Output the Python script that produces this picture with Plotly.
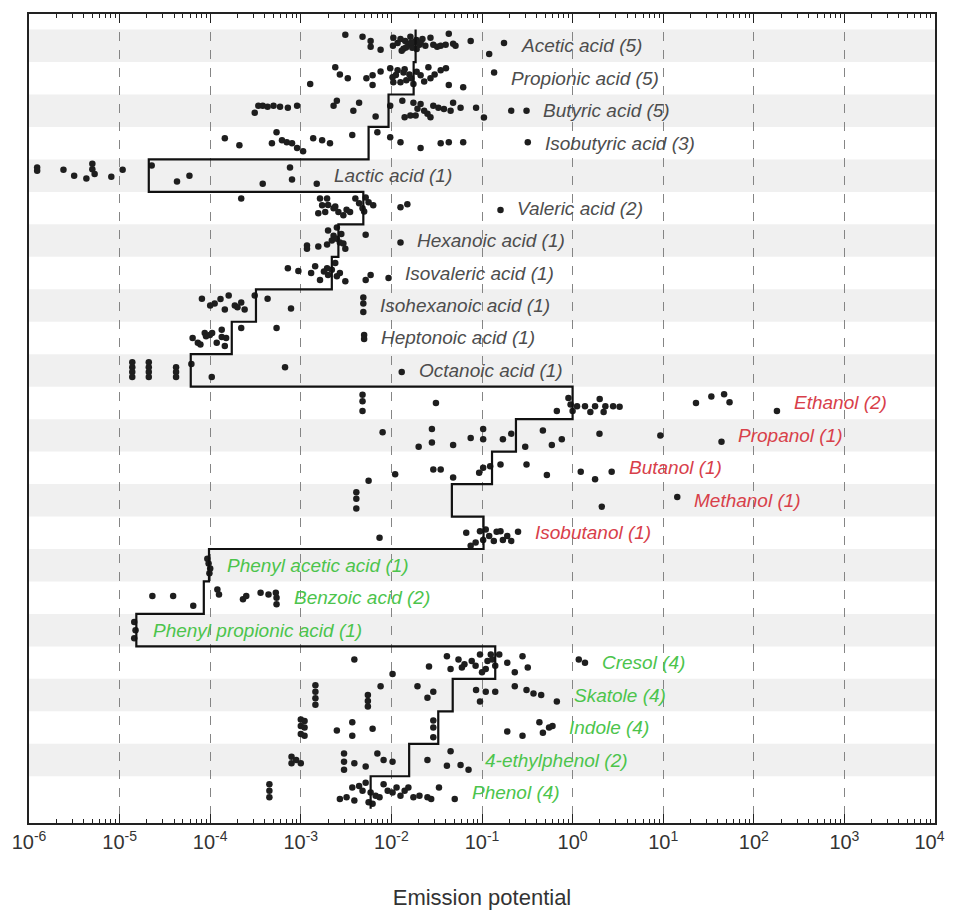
import math
import plotly.graph_objects as go

# ---------------- data ----------------
names = ["Acetic acid (5)", "Propionic acid (5)", "Butyric acid (5)", "Isobutyric acid (3)",
         "Lactic acid (1)", "Valeric acid (2)", "Hexanoic acid (1)", "Isovaleric acid (1)",
         "Isohexanoic acid (1)", "Heptonoic acid (1)", "Octanoic acid (1)",
         "Ethanol (2)", "Propanol (1)", "Butanol (1)", "Methanol (1)", "Isobutanol (1)",
         "Phenyl acetic acid (1)", "Benzoic acid (2)", "Phenyl propionic acid (1)",
         "Cresol (4)", "Skatole (4)", "Indole (4)", "4-ethylphenol (2)", "Phenol (4)"]
groups = ["acid"] * 11 + ["alcohol"] * 5 + ["aromatic"] * 8

tick_values = [1e-6, 1e-5, 1e-4, 1e-3, 1e-2, 1e-1, 1e0, 1e1, 1e2, 1e3, 1e4]
tick_labels = ["10<sup>-6</sup>", "10<sup>-5</sup>", "10<sup>-4</sup>", "10<sup>-3</sup>",
               "10<sup>-2</sup>", "10<sup>-1</sup>", "10<sup>0</sup>", "10<sup>1</sup>",
               "10<sup>2</sup>", "10<sup>3</sup>", "10<sup>4</sup>"]

medians = [0.0185, 0.0176, 0.0093, 0.0056, 2.1e-5, 0.0049, 0.0026, 0.0022, 3.2e-4, 1.73e-4, 6.1e-5,
           1.0, 0.237, 0.129, 0.0465, 0.104,
           9.7e-5, 8.5e-5, 1.53e-5, 0.14, 0.0475, 0.0329, 0.0157, 0.0059]

acetic_vals = [0.0031, 0.0048, 0.0059, 0.0059, 0.0076, 0.0105, 0.0104, 0.0117, 0.0126, 0.0136, 0.0142,
               0.0154, 0.0162, 0.0170, 0.0180, 0.0189, 0.0204, 0.022, 0.0237, 0.027, 0.029, 0.032,
               0.035, 0.0397, 0.043, 0.048, 0.051, 0.075, 0.12, 0.175, 0.013, 0.0165, 0.019, 0.021, 0.0145]
acetic_off = [0.34, 0.28, 0.15, -0.03, -0.12, 0.25, 0, 0.09, 0.21, -0.09, 0.15, 0.03, 0.28, -0.06, 0.12,
              0.18, 0.03, 0.21, 0, 0.25, 0.03, -0.03, 0, 0.03, 0.37, 0.06, 0, 0.15, -0.25, 0.09,
              -0.15, 0.1, -0.1, 0.1, -0.05]

propionic_vals = [0.0024, 0.0027, 0.0033, 0.00127, 0.0053, 0.0062, 0.0062, 0.0076, 0.0097, 0.0103, 0.0105,
                  0.0117, 0.0126, 0.0136, 0.0146, 0.0158, 0.0175, 0.021, 0.0256, 0.027, 0.035, 0.040,
                  0.043, 0.062, 0.136, 0.0112, 0.014, 0.0165, 0.019, 0.023, 0.030]
propionic_off = [0.34, 0.12, 0, -0.18, 0, 0.09, -0.21, 0.21, 0.31, 0.03, -0.12, 0.25, -0.12, 0.18, -0.06,
                 0.12, -0.18, 0.09, 0.34, 0, 0.25, 0.31, -0.21, -0.28, 0.18, 0.1, 0.28, 0.0, 0.2, -0.1, 0.12]

butyric_vals = [0.00031, 0.00034, 0.00038, 0.00043, 0.00050, 0.00059, 0.00072, 0.00091, 0.0023, 0.0025,
                0.0038, 0.0044, 0.0067, 0.0097, 0.0132, 0.0162, 0.0175, 0.0194, 0.021, 0.025, 0.029,
                0.033, 0.045, 0.048, 0.058, 0.086, 0.105, 0.21, 0.31, 0.014, 0.0185, 0.023, 0.027, 0.038]
butyric_off = [-0.06, 0.15, 0.15, 0.12, 0.15, 0.12, 0.09, 0.15, 0.15, 0.31, 0, 0.25, -0.18, 0.15, 0.31,
               -0.15, 0.25, 0.06, 0.21, -0.09, 0.15, 0.09, 0, 0.25, 0.09, 0.09, -0.21, 0, 0,
               -0.2, -0.15, 0.0, -0.2, 0.05]

isobutyric_vals = [0.000145, 0.00021, 0.00048, 0.00054, 0.00062, 0.00070, 0.00080, 0.00091, 0.00106,
                   0.00137, 0.00172, 0.0021, 0.0037, 0.0070, 0.0097, 0.0126, 0.021, 0.035, 0.043,
                   0.062, 0.32]
isobutyric_off = [0.15, -0.06, 0, 0.34, 0.09, 0.03, 0, -0.15, -0.25, 0.15, 0.09, 0, 0.25, 0.34, 0.18,
                  0.03, -0.15, 0, 0.03, 0.03, 0.03]

lactic_vals = [1.23e-6, 1.23e-6, 2.4e-6, 3.15e-6, 4.3e-6, 5.0e-6, 5.0e-6, 5.3e-6, 8.1e-6, 1.08e-5,
               2.26e-5, 4.3e-5, 5.9e-5, 3.8e-4, 7.6e-4, 8.0e-4, 1.5e-3]
lactic_off = [0.25, 0.15, 0.18, 0, -0.09, 0.37, 0.2, 0.05, -0.03, 0.18, 0.31, -0.18, 0, -0.25, 0.25,
              -0.12, -0.25]

valeric_vals = [2.2e-4, 1.56e-3, 1.63e-3, 1.72e-3, 1.86e-3, 1.95e-3, 2.3e-3, 2.6e-3, 2.95e-3, 3.5e-3,
                4.0e-3, 4.8e-3, 5.2e-3, 5.6e-3, 6.3e-3, 1.26e-2, 1.5e-2, 0.16,
                2.0e-3, 2.4e-3, 3.2e-3, 4.4e-3, 5.0e-3]
valeric_off = [0.3, -0.16, 0.3, 0.09, -0.12, 0.3, 0, -0.12, -0.22, -0.12, 0.3, 0, 0.33, 0.18, 0.09,
               0.03, 0.12, -0.06, 0.1, 0.05, -0.05, 0.15, -0.1]

hexanoic_vals = [1.17e-3, 1.56e-3, 1.95e-3, 2.0e-3, 2.3e-3, 2.5e-3, 2.7e-3, 2.95e-3, 2.5e-3, 5.2e-3,
                 1.26e-2, 1.17e-3, 2.2e-3, 2.8e-3, 3.1e-3]
hexanoic_off = [-0.15, -0.18, -0.12, 0.31, 0.15, 0.06, -0.06, -0.09, 0.4, 0.18, -0.06, -0.25, 0.0,
                0.2, -0.25]

isovaleric_vals = [7.2e-4, 9.4e-4, 1.3e-3, 1.44e-3, 1.63e-3, 1.95e-3, 2.0e-3, 2.4e-3, 2.7e-3, 3.1e-3,
                   5.2e-3, 5.9e-3, 9.3e-3, 2.2e-3, 2.5e-3, 1.8e-3]
isovaleric_off = [0.15, 0.06, 0, 0.21, -0.21, 0.15, -0.06, 0.31, 0, -0.25, -0.21, -0.06, -0.15,
                  0.1, -0.1, 0.05]

isohexanoic_vals = [8.1e-5, 1.12e-4, 1.45e-4, 1.6e-4, 1.87e-4, 2.2e-4, 2.4e-4, 3.1e-4, 4.3e-4, 7.8e-4,
                    4.9e-3, 4.9e-3, 4.9e-3, 1.3e-4, 2.0e-4, 1.0e-4]
isohexanoic_off = [0.21, 0.06, -0.12, 0.31, 0, 0.09, -0.12, 0.31, 0.21, -0.09, 0.25, 0.06, -0.2,
                   0.2, -0.05, 0.0]

heptonoic_vals = [6.4e-5, 7.3e-5, 8.7e-5, 9.9e-5, 1.18e-4, 1.34e-4, 1.34e-4, 1.45e-4, 2.2e-4, 5.4e-4,
                  5.0e-3, 5.0e-3, 9.0e-5, 1.05e-4, 7.8e-5, 1.5e-4]
heptonoic_off = [0, -0.15, 0.15, 0.09, -0.15, 0.25, 0.03, -0.25, 0.31, 0.31, 0.09, -0.03,
                 0.05, 0.15, -0.2, 0.0]

octanoic_vals = [1.38e-5, 1.38e-5, 1.38e-5, 1.38e-5, 2.1e-5, 2.1e-5, 2.1e-5, 2.1e-5, 4.2e-5, 4.2e-5,
                 4.2e-5, 6.2e-5, 1.04e-4, 6.7e-4, 1.3e-2]
octanoic_off = [0.25, 0.1, -0.05, -0.2, 0.25, 0.1, -0.05, -0.2, 0.1, -0.05, -0.2, 0.2, -0.2, 0.1, -0.05]

ethanol_vals = [4.8e-3, 4.8e-3, 4.8e-3, 3.1e-2, 0.67, 0.9, 0.95, 1.0, 1.12, 1.37, 1.57, 1.77, 1.99, 2.2,
                2.3, 2.8, 3.3, 23, 34, 47, 54, 180]
ethanol_off = [0.25, 0.05, -0.25, 0, -0.25, 0.15, -0.05, -0.25, -0.1, -0.1, -0.28, -0.1, 0.12, -0.28,
               -0.1, -0.1, -0.12, 0, 0.2, 0.27, 0.02, -0.25]

propanol_vals = [8.0e-3, 2.0e-2, 2.8e-2, 2.8e-2, 4.8e-2, 7.5e-2, 0.103, 0.103, 0.17, 0.21, 0.30, 0.47,
                 0.59, 0.76, 1.98, 9.3, 44]
propanol_off = [0.1, -0.35, 0.2, -0.22, -0.3, -0.08, 0.2, -0.12, -0.12, 0.05, -0.35, 0.15, -0.3,
                -0.12, 0.05, 0, -0.2]

butanol_vals = [5.6e-3, 1.1e-2, 2.9e-2, 3.5e-2, 4.8e-2, 9.3e-2, 0.103, 0.123, 0.16, 0.31, 0.52, 1.23,
                1.77, 2.7]
butanol_off = [-0.4, -0.2, -0.05, -0.05, -0.3, -0.15, 0, 0.05, 0.1, 0.1, -0.22, -0.12, -0.35, -0.12]

methanol_vals = [4.1e-3, 4.1e-3, 4.1e-3, 2.1, 14.3]
methanol_off = [0.25, 0.05, -0.25, -0.2, 0.1]

isobutanol_vals = [7.4e-3, 6.7e-2, 7.5e-2, 8.5e-2, 9.5e-2, 0.103, 0.12, 0.135, 0.145, 0.17, 0.19,
                   0.21, 0.25, 0.11, 0.16]
isobutanol_off = [-0.15, 0, -0.4, -0.3, 0.05, -0.22, -0.1, -0.25, 0.03, -0.22, -0.1, -0.25, 0.03,
                  0.1, 0.05]

phenylacetic_vals = [9.3e-5, 9.6e-5, 1.0e-4, 9.8e-5]
phenylacetic_off = [0.2, 0.05, -0.1, -0.25]

benzoic_vals = [2.3e-5, 3.9e-5, 6.5e-5, 1.2e-4, 1.25e-4, 2.3e-4, 2.5e-4, 3.6e-4, 4.4e-4, 5.3e-4,
                5.4e-4, 5.4e-4]
benzoic_off = [0.05, 0.05, -0.25, 0.25, 0.1, -0.05, 0.05, 0.15, 0.1, 0.15, 0.0, -0.2]

phenylpropionic_vals = [1.45e-5, 1.5e-5, 1.45e-5]
phenylpropionic_off = [0.25, 0.0, -0.25]

cresol_vals = [3.9e-3, 1.03e-2, 2.6e-2, 4.1e-2, 4.5e-2, 5.5e-2, 6.4e-2, 7.7e-2, 9.5e-2, 0.1, 0.115,
               0.125, 0.14, 0.155, 0.19, 0.23, 0.28, 0.32, 1.17, 1.37, 0.06, 0.085, 0.13, 0.11]
cresol_off = [0.1, -0.35, -0.12, 0.2, -0.2, 0.1, -0.05, 0.05, 0.25, -0.3, 0.05, 0.25, -0.1, 0.25,
              0.0, -0.3, 0.2, -0.15, 0.1, 0.0, -0.15, -0.1, 0.1, -0.2]

skatole_vals = [1.45e-3, 1.45e-3, 1.45e-3, 1.45e-3, 5.5e-3, 5.5e-3, 5.5e-3, 7.6e-3, 1.94e-2, 2.5e-2,
                2.9e-2, 8.6e-2, 9.5e-2, 0.11, 0.14, 0.23, 0.31, 0.37, 0.45, 0.67]
skatole_off = [0.3, 0.1, -0.1, -0.3, 0, -0.18, -0.35, 0.27, 0.27, -0.08, 0.1, 0.16, -0.2, 0.1, 0.1,
               0.27, 0.16, 0.05, 0, -0.2]

indole_vals = [1.0e-3, 1.0e-3, 1.0e-3, 1.1e-3, 1.1e-3, 1.1e-3, 2.5e-3, 3.7e-3, 3.7e-3, 6.2e-3, 2.9e-2,
               2.9e-2, 2.9e-2, 0.19, 0.28, 0.43, 0.47, 0.55, 0.6]
indole_off = [0.25, 0.05, -0.2, 0.2, 0.0, -0.25, -0.09, 0.16, -0.25, -0.04, 0.22, 0.0, -0.3, -0.12,
              -0.25, 0.16, -0.16, 0.0, 0.05]

ethylphenol_vals = [7.9e-4, 7.9e-4, 8.9e-4, 1.0e-3, 3.0e-3, 3.0e-3, 3.0e-3, 3.9e-3, 5.2e-3, 7.0e-3,
                    8.2e-3, 1.03e-2, 2.5e-2, 4.1e-2, 4.5e-2, 5.8e-2, 7.1e-2]
ethylphenol_off = [0.1, -0.1, 0.0, -0.1, 0.2, -0.05, -0.3, -0.1, -0.2, 0.2, 0.0, -0.05, 0.0, -0.18,
                   0.27, -0.15, -0.3]

phenol_vals = [4.5e-4, 4.5e-4, 4.5e-4, 2.7e-3, 3.2e-3, 3.7e-3, 3.9e-3, 4.4e-3, 5.2e-3, 5.6e-3, 6.7e-3,
               7.4e-3, 8.2e-3, 9.1e-3, 1.03e-2, 1.14e-2, 1.26e-2, 1.4e-2, 1.54e-2, 1.75e-2, 2.04e-2,
               2.5e-2, 2.75e-2, 3.35e-2, 5.0e-2, 5.9e-3, 6.2e-3, 4.8e-3]
phenol_off = [0.25, 0.05, -0.15, -0.2, -0.15, 0.15, -0.25, 0.2, 0.3, -0.3, -0.1, -0.15, 0.25, 0.05,
              0.0, 0.15, -0.1, 0.05, 0.15, -0.15, -0.1, -0.15, -0.2, 0.15, -0.2, 0.0, -0.35, 0.05]

row_vals = [acetic_vals, propionic_vals, butyric_vals, isobutyric_vals, lactic_vals, valeric_vals,
            hexanoic_vals, isovaleric_vals, isohexanoic_vals, heptonoic_vals, octanoic_vals,
            ethanol_vals, propanol_vals, butanol_vals, methanol_vals, isobutanol_vals,
            phenylacetic_vals, benzoic_vals, phenylpropionic_vals,
            cresol_vals, skatole_vals, indole_vals, ethylphenol_vals, phenol_vals]
row_offs = [acetic_off, propionic_off, butyric_off, isobutyric_off, lactic_off, valeric_off,
            hexanoic_off, isovaleric_off, isohexanoic_off, heptonoic_off, octanoic_off,
            ethanol_off, propanol_off, butanol_off, methanol_off, isobutanol_off,
            phenylacetic_off, benzoic_off, phenylpropionic_off,
            cresol_off, skatole_off, indole_off, ethylphenol_off, phenol_off]

# ---------------- styling ----------------
group_colors = {"acid": "#4d4d4d", "alcohol": "#d8404a", "aromatic": "#4cc44c"}
FONT = "Liberation Sans, Arial, sans-serif"
n = len(names)
row_y = [n - i for i in range(n)]  # top row = 24

# keep the last tick label inside the window: pad it on the right
shown_tick_labels = tick_labels[:-1] + [tick_labels[-1] + "&nbsp;&nbsp;"]

fig = go.Figure()

# alternating stripes
shapes = []
for i, y in enumerate(row_y):
    if i % 2 == 0:
        shapes.append(dict(type="rect", xref="paper", yref="y", x0=0, x1=1,
                           y0=y - 0.5, y1=y + 0.5, fillcolor="#f0f0f0",
                           line=dict(width=0), layer="below"))

# scatter points
px, py = [], []
for y, vals, offs in zip(row_y, row_vals, row_offs):
    for v, o in zip(vals, offs):
        px.append(v)
        py.append(y + o)
fig.add_trace(go.Scatter(x=px, y=py, mode="markers",
                         marker=dict(size=6.5, color="#1e1e1e", line=dict(width=0)),
                         hoverinfo="x", showlegend=False))

# median staircase (drawn on the top twin axis, same scale)
sx, sy = [], []
for y, m in zip(row_y, medians):
    sx += [m, m]
    sy += [y + 0.5, y - 0.5]
fig.add_trace(go.Scatter(x=sx, y=sy, mode="lines", xaxis="x2",
                         line=dict(color="#111111", width=2.2),
                         hoverinfo="skip", showlegend=False))

# labels to the right of each row's points
annotations = []
for y, name, g, vals in zip(row_y, names, groups, row_vals):
    annotations.append(dict(x=math.log10(max(vals)) + 0.165, y=y, xref="x", yref="y",
                            text="<i>" + name + "</i>", showarrow=False,
                            xanchor="left", yanchor="middle",
                            font=dict(family=FONT, size=19, color=group_colors[g])))

minor_ticks = dict(ticks="inside", ticklen=4, tickwidth=1, tickcolor="#222", dtick="D1", showgrid=False)

# the page adds an 8px body margin, so the figure is a bit smaller than the window
fig.update_layout(
    width=947, height=902,
    margin=dict(l=21, r=20, t=6, b=87),
    paper_bgcolor="white", plot_bgcolor="white",
    shapes=shapes, annotations=annotations,
    showlegend=False,
    xaxis=dict(
        type="log", range=[-6, 4], tickmode="array", tickvals=tick_values, ticktext=shown_tick_labels,
        showgrid=True, griddash="dash", gridcolor="#858585", gridwidth=1.3,
        ticks="inside", ticklen=9, tickwidth=1.3, tickcolor="#222",
        minor=minor_ticks,
        showline=True, linecolor="#222", linewidth=2, mirror=True,
        zeroline=False, automargin=False, ticklabeloverflow="allow",
        tickfont=dict(family=FONT, size=20, color="#333"),
        title=dict(text="Emission potential", font=dict(family=FONT, size=22, color="#333"),
                   standoff=47),
    ),
    xaxis2=dict(
        type="log", range=[-6, 4], overlaying="x", side="top", anchor="y",
        tickmode="array", tickvals=tick_values, showticklabels=False,
        ticks="inside", ticklen=9, tickwidth=1.3, tickcolor="#222",
        minor=minor_ticks, showgrid=False, showline=False, zeroline=False, automargin=False,
    ),
    yaxis=dict(
        range=[0.06, 24.98], showticklabels=False, showgrid=False, zeroline=False,
        showline=True, linecolor="#222", linewidth=2, mirror=True, ticks="", automargin=False,
    ),
)

fig.write_html("out.html")
